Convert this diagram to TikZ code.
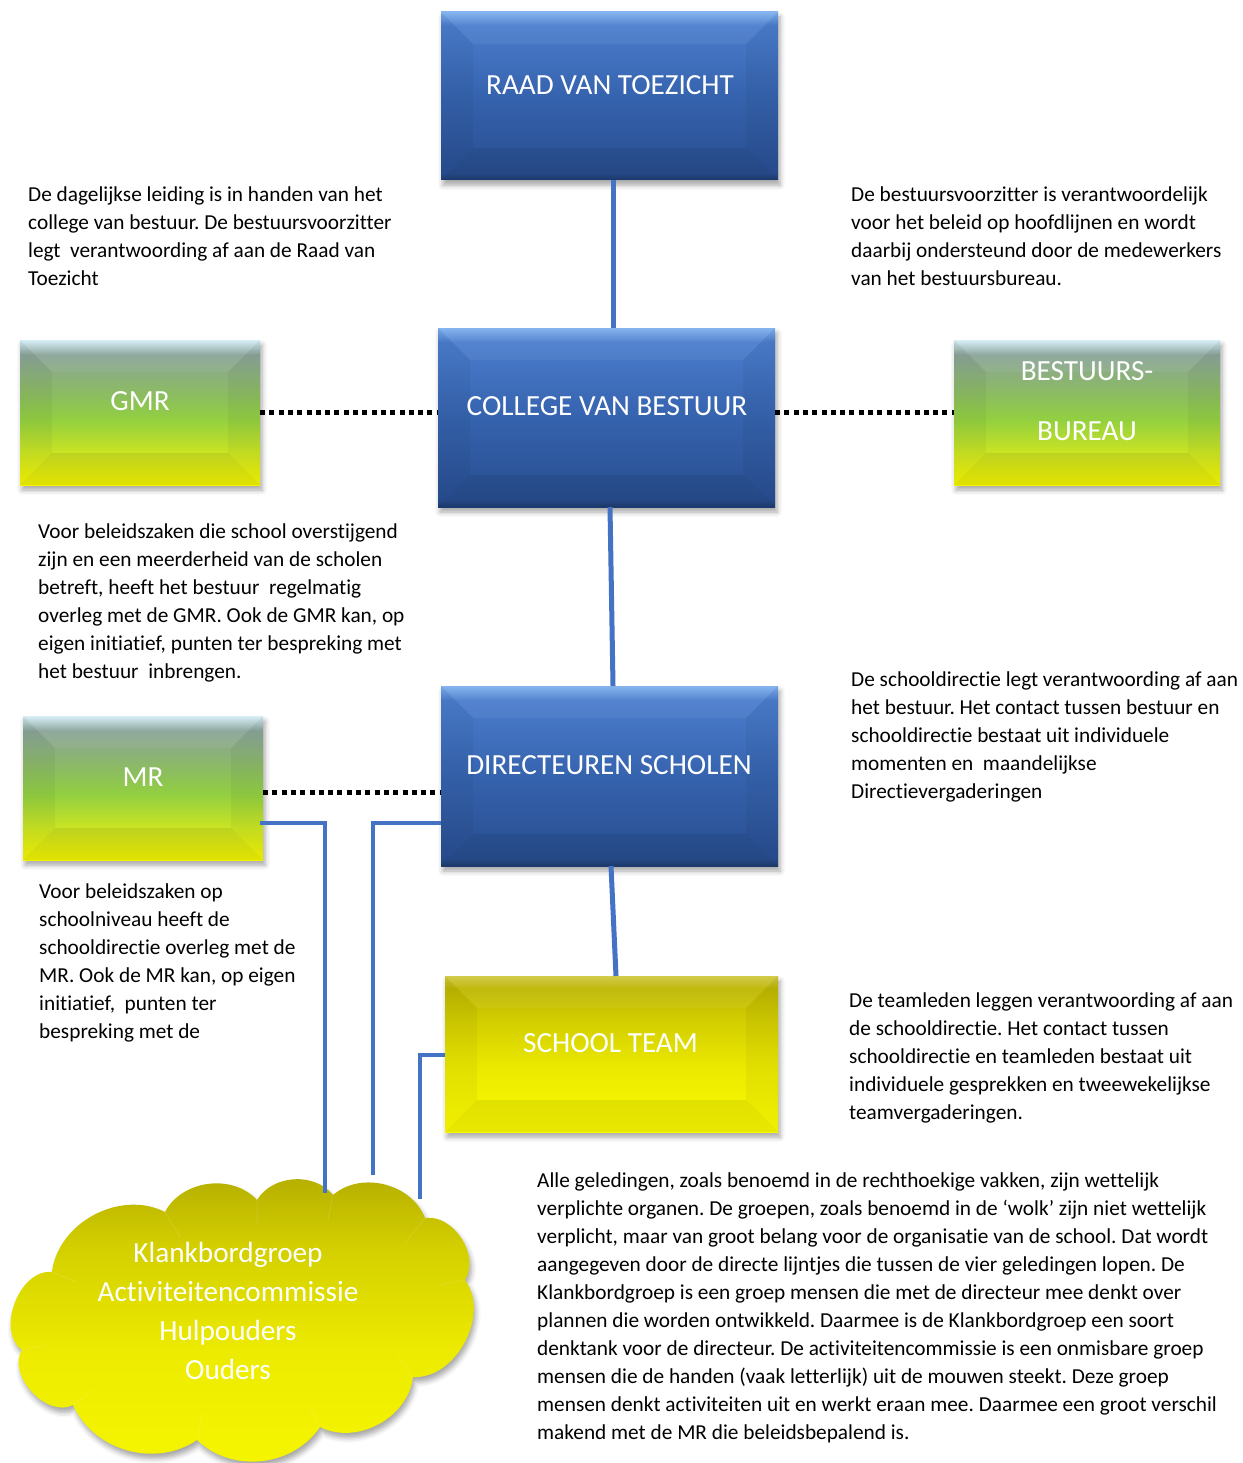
\documentclass[tikz,border=0pt]{standalone}
\usepackage{fontspec}
\setmainfont{Carlito}[Ligatures={TeX,NoCommon}]
\usetikzlibrary{shadows.blur,calc}
\definecolor{lineblue}{RGB}{68,114,196}
\definecolor{bA}{HTML}{7FB0EE}
\definecolor{bB}{HTML}{4A7CCC}
\definecolor{bC}{HTML}{3663AE}
\definecolor{bD}{HTML}{284E90}
\definecolor{bE}{HTML}{1E3C70}
\definecolor{gA}{HTML}{D5EEF7}
\definecolor{gB}{HTML}{8AA399}
\definecolor{gC}{HTML}{8CBF5C}
\definecolor{gD}{HTML}{93D040}
\definecolor{gE}{HTML}{D0E620}
\definecolor{gF}{HTML}{F4F400}
\definecolor{yA}{HTML}{D0C840}
\definecolor{yB}{HTML}{BDB600}
\definecolor{yC}{HTML}{D4CF00}
\definecolor{yD}{HTML}{ECEA00}
\definecolor{yE}{HTML}{FAFA00}
\definecolor{cA}{HTML}{B4AC00}
\definecolor{cB}{HTML}{D4D000}
\definecolor{cC}{HTML}{EDEB00}
\definecolor{cD}{HTML}{F6F600}
\pgfdeclareverticalshading{blueshade}{100bp}{color(0bp)=(bE); color(25bp)=(bE); color(27bp)=(bD); color(50bp)=(bC); color(71bp)=(bB); color(75bp)=(bA); color(100bp)=(bA)}
\pgfdeclareverticalshading{greenshade}{100bp}{color(0bp)=(gF); color(25bp)=(gF); color(35bp)=(gE); color(47.5bp)=(gD); color(55bp)=(gC); color(70bp)=(gB); color(75bp)=(gA); color(100bp)=(gA)}
\pgfdeclareverticalshading{yellowshade}{100bp}{color(0bp)=(yE); color(25bp)=(yE); color(45bp)=(yD); color(60bp)=(yC); color(71bp)=(yB); color(75bp)=(yA); color(100bp)=(yA)}
\pgfdeclareverticalshading{cloudshade}{100bp}{color(0bp)=(cD); color(25bp)=(cD); color(45bp)=(cC); color(62bp)=(cB); color(75bp)=(cA); color(100bp)=(cA)}
\frenchspacing
\begin{document}
\begin{tikzpicture}[x=1pt,y=-1pt,
  bevel/.style={path picture={
    \fill[white,fill opacity=0.06] (path picture bounding box.north west) -- (path picture bounding box.north east) -- ([xshift=-32pt,yshift=-32pt]path picture bounding box.north east) -- ([xshift=32pt,yshift=-32pt]path picture bounding box.north west) -- cycle;
    \fill[black,fill opacity=0.07] (path picture bounding box.south west) -- (path picture bounding box.south east) -- ([xshift=-32pt,yshift=32pt]path picture bounding box.south east) -- ([xshift=32pt,yshift=32pt]path picture bounding box.south west) -- cycle;
    \fill[black,fill opacity=0.04] (path picture bounding box.north west) -- ([xshift=32pt,yshift=-32pt]path picture bounding box.north west) -- ([xshift=32pt,yshift=32pt]path picture bounding box.south west) -- (path picture bounding box.south west) -- cycle;
    \fill[black,fill opacity=0.04] (path picture bounding box.north east) -- ([xshift=-32pt,yshift=-32pt]path picture bounding box.north east) -- ([xshift=-32pt,yshift=32pt]path picture bounding box.south east) -- (path picture bounding box.south east) -- cycle;
  }},
  softshadow/.style={blur shadow={shadow xshift=2pt, shadow yshift=-5pt, shadow blur radius=5pt, shadow opacity=35}},
  boxbase/.style={rectangle, inner sep=0pt, outer sep=0pt, bevel, softshadow},
  bluebox/.style={boxbase, shading=blueshade},
  greenbox/.style={boxbase, shading=greenshade},
  yellowbox/.style={boxbase, shading=yellowshade},
  boxlabel/.style={text=white, inner sep=0pt, font=\fontsize{29.2}{35}\selectfont},
  para/.style={anchor=north west, inner sep=0pt, align=left, text=black, font=\fontsize{21.3}{28}\selectfont},
  dotline/.style={line width=5pt, black, dash pattern=on 5pt off 4.3pt},
  blueline/.style={line width=5pt, lineblue},
  bluebend/.style={line width=4.5pt, lineblue, line join=miter},
  puff/.style={bend left=#1}
]
\useasboundingbox (0,0) rectangle (1242,1463);

% boxes
\node[bluebox, minimum width=337pt, minimum height=168pt] (raad) at (609.5,96) {};
\node[bluebox, minimum width=337pt, minimum height=179pt] (college) at (606.5,417.5) {};
\node[greenbox, minimum width=240pt, minimum height=145pt] (gmr) at (140,412.5) {};
\node[greenbox, minimum width=266pt, minimum height=145pt] (bb) at (1087,412.5) {};
\node[greenbox, minimum width=240pt, minimum height=144pt] (mr) at (143,788) {};
\node[bluebox, minimum width=337pt, minimum height=180pt] (dir) at (609.5,776) {};
\node[yellowbox, minimum width=333pt, minimum height=156pt] (school) at (611.5,1054) {};

% cloud
\coordinate (d1) at (52,1272);
\coordinate (d2) at (165,1212);
\coordinate (d3) at (257,1200);
\coordinate (d4) at (333,1195);
\coordinate (d5) at (425,1218);
\coordinate (d6) at (465,1280);
\coordinate (d7) at (413,1377);
\coordinate (d8) at (320,1427);
\coordinate (d9) at (197,1440);
\coordinate (d10) at (73,1405);
\coordinate (d11) at (22,1350);
\shade[shading=cloudshade, softshadow]
  (d1) to[puff=55] (d2) to[puff=55] (d3) to[puff=55] (d4) to[puff=55] (d5)
  to[puff=65] (d6) to[puff=65] (d7) to[puff=55] (d8) to[puff=50] (d9)
  to[puff=50] (d10) to[puff=75] (d11) to[puff=75] (d1) -- cycle;
\draw[white, opacity=0.10, line width=1pt] (d2) -- ++(15,25) (d3) -- ++(0,25) (d4) -- ++(-5,25) (d5) -- ++(-20,25) (d6) -- ++(-25,5) (d7) -- ++(-15,-20) (d8) -- ++(-10,-20) (d9) -- ++(5,-25) (d10) -- ++(20,-15) (d11) -- ++(25,-5) (d1) -- ++(25,10);

% box labels
\node[boxlabel] (raadt) at (610,85) {RAAD VAN TOEZICHT};
\node[boxlabel] (colleget) at (607,406) {COLLEGE VAN BESTUUR};
\node[boxlabel] (gmrt) at (140,401) {GMR};
\node[boxlabel] (bbt1) at (1087,371) {BESTUURS-};
\node[boxlabel] (bbt2) at (1087,431) {BUREAU};
\node[boxlabel] (mrt) at (143,777) {MR};
\node[boxlabel] (dirt) at (609,765) {DIRECTEUREN SCHOLEN};
\node[boxlabel] (schoolt) at (610.5,1043) {SCHOOL TEAM};
\node[anchor=north, inner sep=0pt, align=center, text=white, font=\fontsize{29.2}{39}\selectfont] (cloudt) at (228,1234.7)
  {\strut Klankbordgroep\\Activiteitencommissie\\Hulpouders\\Ouders};

% connectors
\draw[blueline] ([xshift=3.5pt]raad.south) -- ([xshift=6.5pt]college.north);
\draw[blueline] ([xshift=3.5pt]college.south) -- ([xshift=3.5pt]dir.north);
\draw[blueline] ([xshift=1.5pt]dir.south) -- ([xshift=4.5pt]school.north);
\draw[dotline] (gmr.east) -- (gmr.east -| college.west);
\draw[dotline] (college.east |- bb.west) -- (bb.west);
\draw[dotline] ([yshift=-4pt]mr.east) -- ([yshift=-4pt]mr.east -| dir.west);

\coordinate (c1) at (325,1193);
\coordinate (c2) at (373,1175);
\coordinate (c3) at (420,1199);
\draw[bluebend] ([xshift=-3pt,yshift=-35pt]mr.east) -| (c1);
\draw[bluebend] ([yshift=-47pt]dir.west) -| (c2);
\draw[bluebend] ([yshift=-1pt]school.west) -| (c3);

% paragraphs
\node[para] (p1) at (28,181.4) {\strut De dagelijkse leiding is in handen van het\\college van bestuur. De bestuursvoorzitter\\legt \ verantwoording af aan de Raad van\\Toezicht};
\node[para] (p2) at (851,181.4) {\strut De bestuursvoorzitter is verantwoordelijk\\voor het beleid op hoofdlijnen en wordt\\daarbij ondersteund door de medewerkers\\van het bestuursbureau.};
\node[para] (p3) at (38,518.4) {\strut Voor beleidszaken die school overstijgend\\zijn en een meerderheid van de scholen\\betreft, heeft het bestuur \ regelmatig\\overleg met de GMR. Ook de GMR kan, op\\eigen initiatief, punten ter bespreking met\\het bestuur \ inbrengen.};
\node[para] (p4) at (851,666.4) {\strut De schooldirectie legt verantwoording af aan\\het bestuur. Het contact tussen bestuur en\\schooldirectie bestaat uit individuele\\momenten en \ maandelijkse\\Directievergaderingen};
\node[para] (p5) at (39,878.4) {\strut Voor beleidszaken op\\schoolniveau heeft de\\schooldirectie overleg met de\\MR. Ook de MR kan, op eigen\\initiatief, \ punten ter\\bespreking met de};
\node[para] (p6) at (849,987.4) {\strut De teamleden leggen verantwoording af aan\\de schooldirectie. Het contact tussen\\schooldirectie en teamleden bestaat uit\\individuele gesprekken en tweewekelijkse\\teamvergaderingen.};
\node[para] (p7) at (537,1167.4) {\strut Alle geledingen, zoals benoemd in de rechthoekige vakken, zijn wettelijk\\verplichte organen. De groepen, zoals benoemd in de ‘wolk’ zijn niet wettelijk\\verplicht, maar van groot belang voor de organisatie van de school. Dat wordt\\aangegeven door de directe lijntjes die tussen de vier geledingen lopen. De\\Klankbordgroep is een groep mensen die met de directeur mee denkt over\\plannen die worden ontwikkeld. Daarmee is de Klankbordgroep een soort\\denktank voor de directeur. De activiteitencommissie is een onmisbare groep\\mensen die de handen (vaak letterlijk) uit de mouwen steekt. Deze groep\\mensen denkt activiteiten uit en werkt eraan mee. Daarmee een groot verschil\\makend met de MR die beleidsbepalend is.};
\end{tikzpicture}
\end{document}
